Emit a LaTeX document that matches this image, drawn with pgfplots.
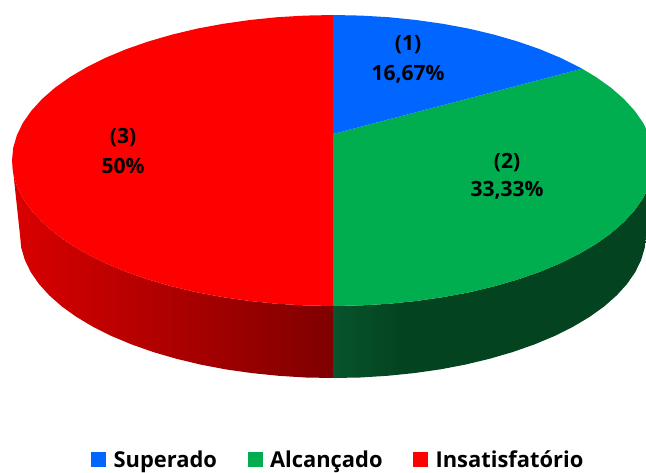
\documentclass[border=0pt]{standalone}
\usepackage{pgfplots}
\pgfplotsset{compat=1.18}
\usepackage{fontspec}
\setmainfont{Open Sans}
\definecolor{pblue}{RGB}{0,102,255}
\definecolor{pgreen}{RGB}{0,173,79}
\definecolor{pred}{RGB}{255,0,0}
\definecolor{rw1}{RGB}{218,0,0}
\definecolor{rw2}{RGB}{127,0,0}
\definecolor{gw1}{RGB}{8,84,44}
\definecolor{gw2}{RGB}{3,67,31}
\pgfdeclarehorizontalshading{redwall}{100bp}{color(0bp)=(rw1); color(25bp)=(rw1); color(75bp)=(rw2); color(100bp)=(rw2)}
\pgfdeclarehorizontalshading{greenwall}{100bp}{color(0bp)=(gw1); color(25bp)=(gw1); color(36bp)=(gw2); color(100bp)=(gw2)}
\newcommand\lblfont{\fontsize{21bp}{23bp}\selectfont\bfseries}
\begin{document}
\begin{tikzpicture}
\clip (0,0) rectangle (646bp,473bp);
\begin{axis}[
  at={(0,0)},anchor=south west,
  scale only axis,width=646bp,height=473bp,
  xmin=0,xmax=646,ymin=0,ymax=473,y dir=reverse,
  hide axis,clip=true,
  legend columns=3,
  legend cell align=left,
  legend style={at={(axis cs:338,459.5)},anchor=center,draw=none,fill=none,inner sep=0pt,
    font=\fontsize{21.9bp}{23bp}\selectfont\bfseries,
    /tikz/every even column/.style={column sep=30bp},
    /tikz/every odd column/.style={column sep=7bp},
    nodes={inner sep=1pt}},
]
% side wall, red part
\addplot[forget plot,mark=none,draw=none,shade,shading=redwall] coordinates {
(12.0,160.5)(13.2,173.2)(16.9,185.8)(22.9,198.2)(31.4,210.3)(42.1,222.0)(55.0,233.3)(70.1,244.0)(87.1,254.0)(106.0,263.4)(126.7,272.0)(148.9,279.7)(172.5,286.5)(197.3,292.4)(223.2,297.2)(249.9,301.0)(277.3,303.8)(305.0,305.4)(333,306)
(333,378)(305.7,377.5)(278.6,375.8)(252.0,373.1)(225.9,369.4)(200.7,364.6)(176.5,358.8)(153.5,352.1)(131.8,344.5)(111.7,336.1)(93.2,326.9)(76.6,317.0)(61.9,306.5)(49.3,295.4)(38.9,283.9)(30.7,272.0)(24.8,259.8)(21.2,247.5)(20.0,235.0)} -- cycle;
% side wall, green part
\addplot[forget plot,mark=none,draw=none,shade,shading=greenwall] coordinates {
(654.0,160.5)(652.8,173.2)(649.1,185.8)(643.1,198.2)(634.6,210.3)(623.9,222.0)(611.0,233.3)(595.9,244.0)(578.9,254.0)(560.0,263.4)(539.3,272.0)(517.1,279.7)(493.5,286.5)(468.7,292.4)(442.8,297.2)(416.1,301.0)(388.7,303.8)(361.0,305.4)(333,306)
(333,378)(360.3,377.5)(387.4,375.8)(414.0,373.1)(440.1,369.4)(465.3,364.6)(489.5,358.8)(512.5,352.1)(534.2,344.5)(554.3,336.1)(572.8,326.9)(589.4,317.0)(604.1,306.5)(616.7,295.4)(627.1,283.9)(635.3,272.0)(641.2,259.8)(644.8,247.5)(646.0,235.0)} -- cycle;
% top: slices
\addplot[forget plot,mark=none,draw=none,fill=pred] coordinates {
(333,15)(305.0,15.6)(277.3,17.2)(249.9,20.0)(223.2,23.8)(197.3,28.6)(172.5,34.5)(148.9,41.3)(126.7,49.0)(106.0,57.6)(87.1,67.0)(70.1,77.0)(55.0,87.7)(42.1,99.0)(31.4,110.7)(22.9,122.8)(16.9,135.2)(13.2,147.8)(12.0,160.5)
(13.2,173.2)(16.9,185.8)(22.9,198.2)(31.4,210.3)(42.1,222.0)(55.0,233.3)(70.1,244.0)(87.1,254.0)(106.0,263.4)(126.7,272.0)(148.9,279.7)(172.5,286.5)(197.3,292.4)(223.2,297.2)(249.9,301.0)(277.3,303.8)(305.0,305.4)(333,306)} -- cycle;
\addplot[forget plot,mark=none,draw=none,fill=pgreen] coordinates {
(333,134)(582,68.7)(595.9,77.0)(611.0,87.7)(623.9,99.0)(634.6,110.7)(643.1,122.8)(649.1,135.2)(652.8,147.8)(654.0,160.5)
(652.8,173.2)(649.1,185.8)(643.1,198.2)(634.6,210.3)(623.9,222.0)(611.0,233.3)(595.9,244.0)(578.9,254.0)(560.0,263.4)(539.3,272.0)(517.1,279.7)(493.5,286.5)(468.7,292.4)(442.8,297.2)(416.1,301.0)(388.7,303.8)(361.0,305.4)(333,306)} -- cycle;
\addplot[forget plot,mark=none,draw=none,fill=pblue] coordinates {
(333,134)(333,15)(361.0,15.6)(388.7,17.2)(416.1,20.0)(442.8,23.8)(468.7,28.6)(493.5,34.5)(517.1,41.3)(539.3,49.0)(560.0,57.6)(578.9,67.0)(582,68.7)} -- cycle;
% labels
\node[font=\lblfont,inner sep=0pt] at (axis cs:408,45) {(1)};
\node[font=\lblfont,inner sep=0pt] at (axis cs:408,74) {16,67\%};
\node[font=\lblfont,inner sep=0pt] at (axis cs:507,163) {(2)};
\node[font=\lblfont,inner sep=0pt] at (axis cs:507,190) {33,33\%};
\node[font=\lblfont,inner sep=0pt] at (axis cs:123,138) {(3)};
\node[font=\lblfont,inner sep=0pt] at (axis cs:123,166) {50\%};
% legend
\addlegendimage{only marks,mark=square*,mark size=7bp,color=pblue}
\addlegendentry{Superado}
\addlegendimage{only marks,mark=square*,mark size=7bp,color=pgreen}
\addlegendentry{Alcançado}
\addlegendimage{only marks,mark=square*,mark size=7bp,color=pred}
\addlegendentry{Insatisfatório}
\end{axis}
\end{tikzpicture}
\end{document}
